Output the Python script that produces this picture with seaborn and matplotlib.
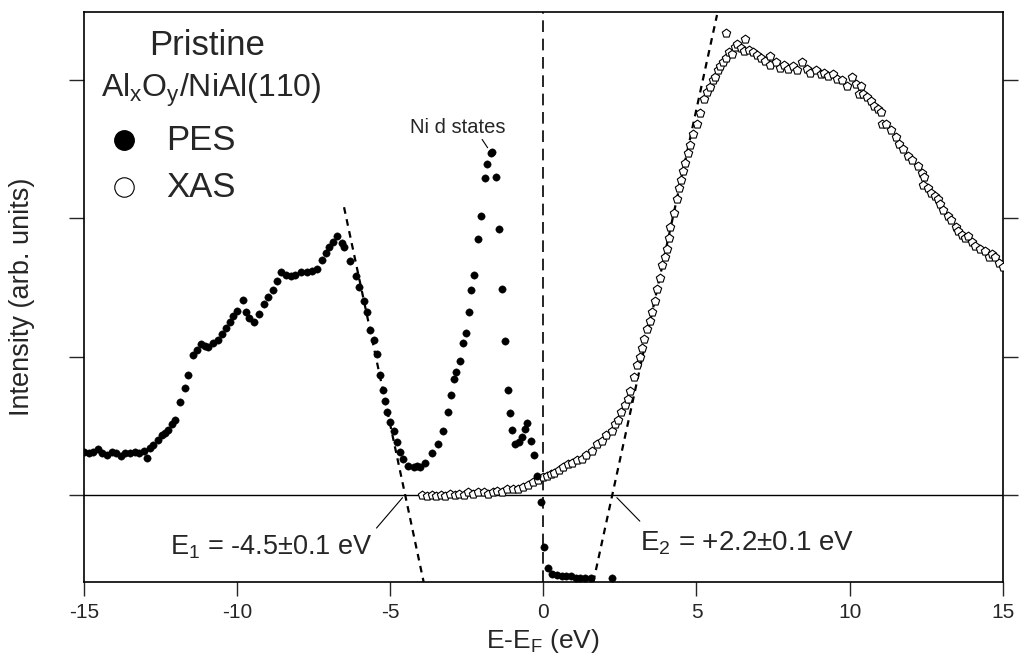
import numpy as np
import pandas as pd
import seaborn as sns
import matplotlib.pyplot as plt

# PES (filled dots)
pes_x = [-15.0, -14.85, -14.7, -14.55, -14.4, -14.25, -14.1, -13.95, -13.8, -13.65,
         -13.5, -13.35, -13.2, -13.05, -12.95, -12.85, -12.75, -12.6, -12.46, -12.35,
         -12.25, -12.13, -12.03, -11.87, -11.71, -11.6, -11.44, -11.3, -11.17, -11.05,
         -10.95, -10.8, -10.63, -10.5, -10.36, -10.25, -10.14, -10.0, -9.82, -9.71,
         -9.6, -9.44, -9.28, -9.11, -8.98, -8.84, -8.7, -8.57, -8.42, -8.25,
         -8.1, -7.9, -7.71, -7.55, -7.39, -7.22, -7.1, -7.01, -6.88, -6.74,
         -6.58, -6.51, -6.3, -6.13, -6.03, -5.86, -5.76, -5.65, -5.54, -5.43,
         -5.32, -5.24, -5.16, -5.11, -5.0, -4.89, -4.78, -4.68, -4.57, -4.41,
         -4.24, -4.13, -4.03, -3.87, -3.65, -3.43, -3.27, -3.13, -3.03, -2.92,
         -2.84, -2.73, -2.62, -2.54, -2.43, -2.35, -2.25, -2.14, -2.03, -1.92,
         -1.84, -1.72, -1.67, -1.54, -1.44, -1.35, -1.24, -1.14, -1.08, -1.02,
         -0.92, -0.81, -0.7, -0.59, -0.54, -0.42, -0.32, -0.2, -0.08, 0.02,
         0.15, 0.29, 0.45, 0.6, 0.75, 0.9, 1.05, 1.2, 1.35, 1.55, 2.25]
pes_y = [0.31, 0.30, 0.31, 0.33, 0.30, 0.29, 0.31, 0.30, 0.28, 0.30,
         0.30, 0.31, 0.30, 0.32, 0.27, 0.34, 0.36, 0.40, 0.43, 0.45,
         0.47, 0.51, 0.54, 0.67, 0.77, 0.87, 1.01, 1.05, 1.09, 1.08,
         1.07, 1.10, 1.12, 1.16, 1.21, 1.25, 1.29, 1.33, 1.41, 1.32,
         1.28, 1.25, 1.31, 1.38, 1.43, 1.48, 1.55, 1.61, 1.59, 1.58,
         1.59, 1.61, 1.61, 1.62, 1.63, 1.70, 1.75, 1.79, 1.83, 1.87,
         1.82, 1.79, 1.69, 1.58, 1.50, 1.40, 1.32, 1.19, 1.12, 1.02,
         0.87, 0.76, 0.68, 0.60, 0.53, 0.46, 0.38, 0.31, 0.26, 0.21,
         0.20, 0.21, 0.20, 0.23, 0.30, 0.37, 0.46, 0.60, 0.72, 0.84,
         0.89, 0.97, 1.10, 1.17, 1.32, 1.48, 1.59, 1.85, 2.02, 2.29,
         2.39, 2.47, 2.48, 2.30, 1.92, 1.49, 1.11, 0.76, 0.59, 0.47,
         0.37, 0.38, 0.42, 0.48, 0.52, 0.39, 0.29, 0.14, -0.05, -0.38,
         -0.53, -0.57, -0.58, -0.59, -0.59, -0.59, -0.60, -0.60, -0.60, -0.60, -0.60]

# XAS (open symbols)
xas_x = [-3.96, -3.8, -3.65, -3.5, -3.35, -3.2, -3.05, -2.9, -2.75, -2.6,
         -2.45, -2.3, -2.15, -1.95, -1.8, -1.64, -1.5, -1.35, -1.2, -1.0,
         -0.83, -0.65, -0.5, -0.35, -0.17, 0.0, 0.12, 0.25, 0.36, 0.5,
         0.65, 0.81, 0.95, 1.1, 1.25, 1.4, 1.58, 1.76, 1.9, 2.05,
         2.23, 2.35, 2.45, 2.52, 2.65, 2.77, 2.84, 2.95, 3.06, 3.15,
         3.22, 3.3, 3.39, 3.47, 3.55, 3.63, 3.71, 3.8, 3.88, 3.96,
         4.04, 4.1, 4.15, 4.25, 4.35, 4.42, 4.48, 4.56, 4.64, 4.72,
         4.8, 4.9, 5.02, 5.1, 5.23, 5.33, 5.45, 5.55, 5.62, 5.7,
         5.78, 5.87, 5.95, 5.95, 6.05, 6.17, 6.25, 6.33, 6.44, 6.6,
         6.55, 6.7, 6.85, 6.98, 7.1, 7.25, 7.41, 7.41, 7.6, 7.72,
         7.85, 8.0, 8.15, 8.28, 8.45, 8.6, 8.72, 8.9, 9.05, 9.15,
         9.3, 9.45, 9.59, 9.75, 9.92, 10.08, 10.2, 10.3, 10.36, 10.45,
         10.58, 10.7, 10.8, 10.92, 11.02, 11.07, 11.2, 11.35, 11.5, 11.62,
         11.75, 11.9, 12.05, 12.22, 12.35, 12.44, 12.4, 12.55, 12.66, 12.78,
         12.88, 12.95, 13.05, 13.2, 13.32, 13.49, 13.55, 13.66, 13.78, 13.88,
         14.0, 14.1, 14.25, 14.43, 14.55, 14.65, 14.76, 14.88, 15.0]
xas_y = [0.0, -0.01, 0.0, -0.01, 0.0, -0.01, 0.01, 0.0, 0.01, 0.0,
         0.02, 0.01, 0.02, 0.02, 0.01, 0.02, 0.03, 0.02, 0.04, 0.04,
         0.04, 0.06, 0.07, 0.09, 0.11, 0.13, 0.14, 0.15, 0.16, 0.18,
         0.20, 0.22, 0.23, 0.25, 0.26, 0.29, 0.32, 0.37, 0.39, 0.43,
         0.46, 0.51, 0.54, 0.60, 0.65, 0.69, 0.75, 0.85, 0.94, 1.00,
         1.06, 1.13, 1.20, 1.26, 1.32, 1.40, 1.49, 1.57, 1.66, 1.72,
         1.78, 1.86, 1.94, 2.04, 2.14, 2.22, 2.28, 2.34, 2.40, 2.47,
         2.53, 2.61, 2.68, 2.76, 2.86, 2.91, 2.95, 3.00, 3.02, 3.07,
         3.10, 3.13, 3.16, 3.34, 3.20, 3.19, 3.24, 3.26, 3.23, 3.30,
         3.21, 3.22, 3.20, 3.18, 3.16, 3.14, 3.17, 3.11, 3.13, 3.09,
         3.11, 3.08, 3.10, 3.07, 3.13, 3.08, 3.05, 3.07, 3.04, 3.05,
         3.03, 3.04, 3.01, 3.00, 2.96, 3.02, 2.97, 2.90, 2.96, 2.90,
         2.88, 2.85, 2.81, 2.79, 2.77, 2.68, 2.68, 2.64, 2.59, 2.54,
         2.50, 2.45, 2.42, 2.38, 2.33, 2.30, 2.24, 2.22, 2.18, 2.16,
         2.14, 2.10, 2.06, 2.02, 1.99, 1.94, 1.91, 1.88, 1.86, 1.87,
         1.83, 1.80, 1.78, 1.76, 1.72, 1.74, 1.72, 1.68, 1.65]

# linear extrapolations (end points)
fit1_x = [-6.51, -3.91]
fit1_y = [2.08, -0.63]
fit2_x = [1.63, 5.67]
fit2_y = [-0.63, 3.47]

xticks = [-15, -10, -5, 0, 5, 10, 15]

sns.set_style('ticks')
plt.rcParams['font.family'] = ['Liberation Sans', 'DejaVu Sans']
plt.rcParams['mathtext.default'] = 'regular'

pes = pd.DataFrame({'E': pes_x, 'I': pes_y})
xas = pd.DataFrame({'E': xas_x, 'I': xas_y})

fig = plt.figure(figsize=(10.19, 6.61), dpi=100)
ax = fig.add_axes([0.0825, 0.1195, 0.9015, 0.862])

ax.axhline(0, color='black', lw=1.0, zorder=1)
ax.axvline(0, color='black', lw=1.2, ls=(0, (7, 4)), zorder=1)
sns.lineplot(x=fit1_x, y=fit1_y, ax=ax, color='black', lw=1.6,
             linestyle=(0, (3, 2.5)), zorder=2)
sns.lineplot(x=fit2_x, y=fit2_y, ax=ax, color='black', lw=1.6,
             linestyle=(0, (3, 2.5)), zorder=2)

sns.scatterplot(data=xas, x='E', y='I', ax=ax, marker='p', s=40,
                facecolor='white', edgecolor='black', linewidth=0.8, zorder=3)
sns.scatterplot(data=pes, x='E', y='I', ax=ax, marker='o', s=28,
                color='black', edgecolor='black', linewidth=0.3, zorder=4)

ax.set_xlim(-15, 15)
ax.set_ylim(-0.63, 3.49)
ax.set_xticks(xticks)
ax.set_xticklabels([str(t) for t in xticks], fontsize=15)
ax.set_yticks([0, 1, 2, 3])
ax.tick_params(axis='y', left=True, right=True, labelleft=False,
               direction='out', length=11, width=1.0)
ax.tick_params(axis='x', direction='out', length=10, width=1.0, pad=5)
for sp in ax.spines.values():
    sp.set_linewidth(1.2)
    sp.set_color('black')

ax.set_xlabel(r'E-E$_F$ (eV)', fontsize=19, labelpad=4)
ax.set_ylabel('Intensity (arb. units)', fontsize=19.5, labelpad=24)

# legend block
ax.text(0.134, 0.942, 'Pristine', transform=ax.transAxes, ha='center',
        va='center', fontsize=25)
ax.text(0.138, 0.863, r'Al$_x$O$_y$/NiAl(110)', transform=ax.transAxes,
        ha='center', va='center', fontsize=23)
ax.plot([0.044], [0.775], 'o', ms=14, color='black', transform=ax.transAxes)
ax.plot([0.044], [0.693], 'o', ms=14, mfc='white', mec='black', mew=0.8,
        transform=ax.transAxes)
ax.text(0.089, 0.775, 'PES', transform=ax.transAxes, va='center', fontsize=25)
ax.text(0.089, 0.693, 'XAS', transform=ax.transAxes, va='center', fontsize=25)

# annotations
ax.text(-2.8, 2.66, 'Ni d states', ha='center', va='center', fontsize=14.5)
ax.plot([-2.0, -1.82], [2.57, 2.51], color='black', lw=0.8)
ax.text(-12.2, -0.38, r'E$_1$ = -4.5±0.1 eV', va='center', fontsize=19.5)
ax.plot([-5.45, -4.6], [-0.24, -0.02], color='black', lw=0.8)
ax.text(3.17, -0.35, r'E$_2$ = +2.2±0.1 eV', va='center', fontsize=20)
ax.plot([2.4, 3.15], [-0.02, -0.19], color='black', lw=0.8)

fig.savefig('out.png', dpi=100)
